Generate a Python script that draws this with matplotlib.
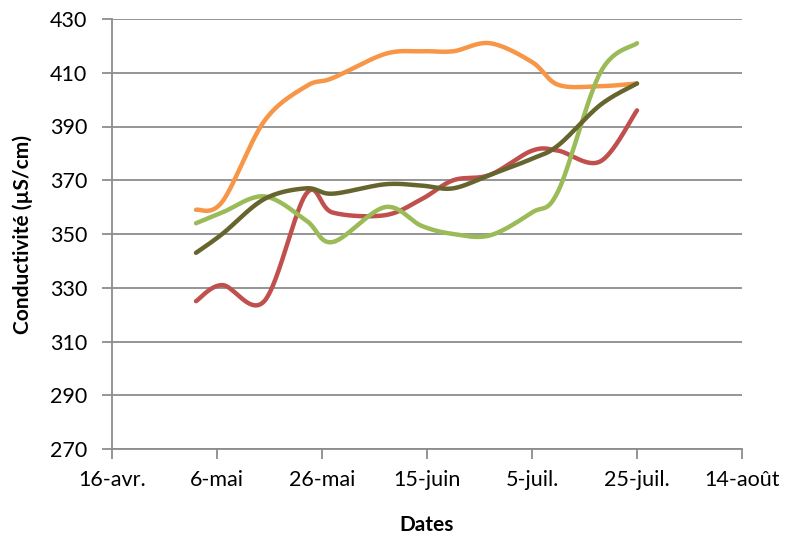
import datetime as dt
import numpy as np
import matplotlib
matplotlib.use('Agg')
import matplotlib.pyplot as plt
import matplotlib.dates as mdates
from matplotlib.ticker import FuncFormatter

plt.rcParams['font.family'] = ['Lato', 'DejaVu Sans']

YEAR = 2013
DATES = ['05-02', '05-07', '05-15', '05-23', '05-28', '06-07', '06-14',
         '06-20', '06-27', '07-05', '07-10', '07-18', '07-25']

ORANGE = [359, 362, 392, 405, 408, 417, 418, 418, 421, 414, 405.5, 405, 406]
RED    = [325, 331, 325, 365, 358, 357, 363, 370, 372, 381, 381, 377, 396]
GREEN  = [354, 358, 364, 355, 347, 360, 353, 350, 349.5, 358, 366, 410, 421]
OLIVE  = [343, 350, 363, 367, 365, 368.5, 368, 367, 372, 378, 383, 398, 406]

SERIES = [(ORANGE, '#F79646'), (RED, '#C0504D'), (GREEN, '#9BBB59'), (OLIVE, '#66652E')]

TICK_START = dt.date(YEAR, 4, 16)
TICK_STEP  = 20
N_TICKS    = 7
Y_MIN, Y_MAX, Y_STEP = 270, 430, 20

MOIS = ['janv.', 'févr.', 'mars', 'avr.', 'mai', 'juin',
        'juil.', 'août', 'sept.', 'oct.', 'nov.', 'déc.']


def excel_smooth(x, y, n=40):
    # bezier smoothing the way Excel draws "smoothed line"
    x = np.asarray(x, float); y = np.asarray(y, float)
    px = np.concatenate([[x[0]], x, [x[-1]]])
    py = np.concatenate([[y[0]], y, [y[-1]]])
    t = np.linspace(0, 1, n)[:, None]
    xs, ys = [], []
    for i in range(1, len(px) - 2):
        p0 = np.array([px[i], py[i]])
        p3 = np.array([px[i + 1], py[i + 1]])
        p1 = p0 + (np.array([px[i + 1], py[i + 1]]) - np.array([px[i - 1], py[i - 1]])) / 6
        p2 = p3 - (np.array([px[i + 2], py[i + 2]]) - np.array([px[i], py[i]])) / 6
        b = ((1 - t) ** 3) * p0 + 3 * ((1 - t) ** 2) * t * p1 + 3 * (1 - t) * t ** 2 * p2 + t ** 3 * p3
        xs.append(b[:, 0]); ys.append(b[:, 1])
    return np.concatenate(xs), np.concatenate(ys)


def fr_date(v, pos=None):
    d = mdates.num2date(v)
    return f'{d.day}-{MOIS[d.month - 1]}'


xnum = mdates.date2num([dt.date(YEAR, int(s[:2]), int(s[3:])) for s in DATES])
ticks = mdates.date2num([TICK_START + dt.timedelta(days=TICK_STEP * k) for k in range(N_TICKS)])

fig = plt.figure(figsize=(7.9, 5.36), dpi=100)
ax = fig.add_axes([112 / 790, 1 - 449 / 536, 630 / 790, 430 / 536])

for vals, col in SERIES:
    sx, sy = excel_smooth(xnum, vals)
    ax.plot(sx, sy, color=col, lw=3.2, solid_capstyle='round', solid_joinstyle='round')

grid_col = '#8C8C8C'
ax.set_xlim(ticks[0], ticks[-1])
ax.set_ylim(Y_MIN, Y_MAX)
ax.set_xticks(ticks)
ax.xaxis.set_major_formatter(FuncFormatter(fr_date))
ax.set_yticks(np.arange(Y_MIN, Y_MAX + 1, Y_STEP))
ax.yaxis.grid(True, color=grid_col, lw=1.3)
ax.set_axisbelow(True)
for s in ['top', 'right']:
    ax.spines[s].set_visible(False)
for s in ['left', 'bottom']:
    ax.spines[s].set_color(grid_col)
    ax.spines[s].set_linewidth(1.3)
ax.tick_params(axis='both', colors=grid_col, labelcolor='black', labelsize=15.5,
               width=1.3, length=7)
ax.tick_params(axis='x', pad=8)
ax.tick_params(axis='y', pad=11)

ax.set_xlabel('Dates', fontsize=15, fontweight='bold', labelpad=18)
ax.set_ylabel('Conductivité (µS/cm)', fontsize=15, fontweight='bold', labelpad=12)

fig.savefig('out.png', dpi=100)
